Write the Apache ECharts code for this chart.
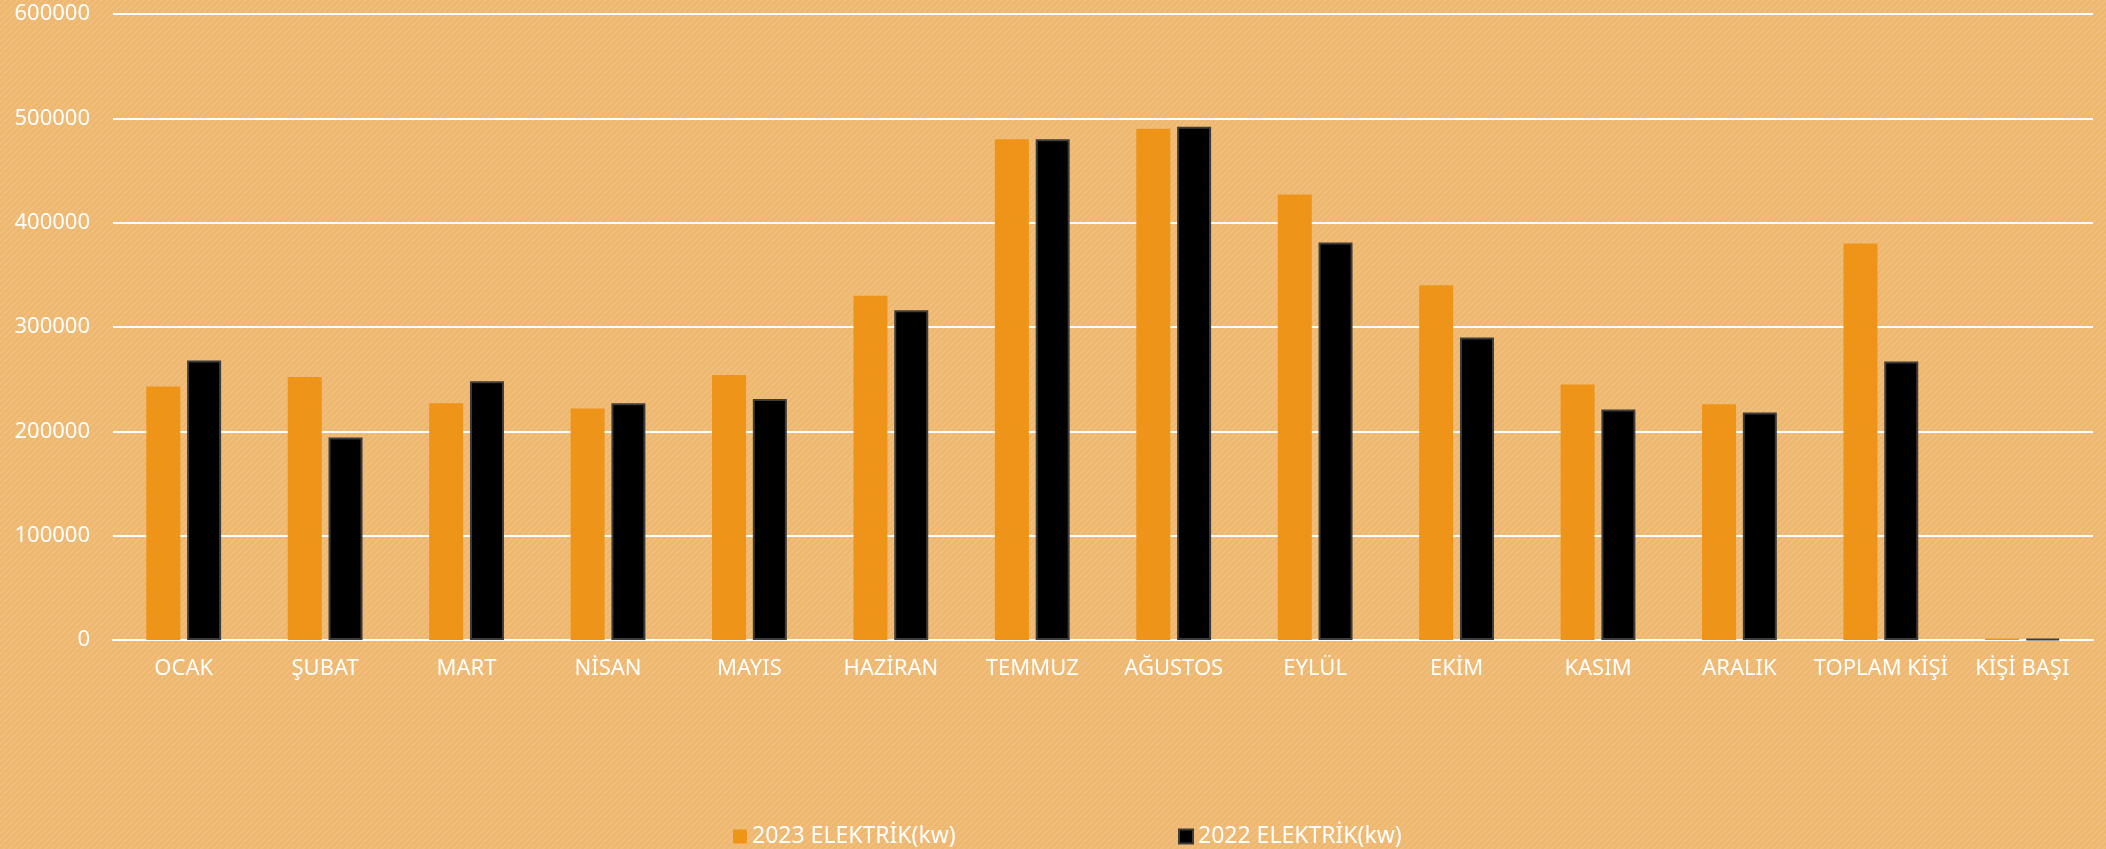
<!DOCTYPE html>
<html>
<head>
<meta charset="utf-8">
<script src="https://cdn.jsdelivr.net/npm/echarts@6/dist/echarts.min.js"></script>
<style>
html,body{margin:0;padding:0;background:#EEB870;}
#c{width:2106px;height:849px;}
</style>
</head>
<body>
<div id="c"></div>
<script>
const categories = ['OCAK','ŞUBAT','MART','NİSAN','MAYIS','HAZİRAN','TEMMUZ','AĞUSTOS','EYLÜL','EKİM','KASIM','ARALIK','TOPLAM KİŞİ','KİŞİ BAŞI'];
const elektrik2023 = [243000,252000,227000,222000,254000,330000,480000,490000,427000,340000,245000,226000,380000,1500];
const elektrik2022 = [268000,194000,248000,227000,231000,316000,480000,492000,381000,290000,221000,218000,267000,1000];
const yTicks = [0,100000,200000,300000,400000,500000,600000];
const seriesNames = ['2023 ELEKTRİK(kw)','2022 ELEKTRİK(kw)'];

// diagonal stripe background pattern
const pc = document.createElement('canvas');
pc.width = 6; pc.height = 6;
const g = pc.getContext('2d');
g.fillStyle = '#EEB76F';
g.fillRect(0,0,6,6);
g.strokeStyle = '#F1BF7E';
g.lineWidth = 1.6;
g.beginPath();
g.moveTo(-1,7); g.lineTo(7,-1);
g.moveTo(-4,4); g.lineTo(4,-4);
g.moveTo(2,10); g.lineTo(10,2);
g.stroke();

const FONT = '"Noto Sans", sans-serif';
const legendBase = {
  top: 820, itemWidth: 14, itemHeight: 14, icon: 'rect',
  textStyle: {color: '#fff', fontSize: 23, fontFamily: FONT}
};
const chart = echarts.init(document.getElementById('c'));
chart.setOption({
  backgroundColor: {image: pc, repeat: 'repeat'},
  animation: false,
  grid: {left: 113, right: 13, top: 14, bottom: 209, containLabel: false},
  legend: [
    Object.assign({left: 728, data: [seriesNames[0]]}, legendBase),
    Object.assign({left: 1173, data: [seriesNames[1]]}, legendBase)
  ],
  xAxis: {
    type: 'category', data: categories,
    axisLine: {show: true, lineStyle: {color: '#fff', width: 2}},
    axisTick: {show: false},
    axisLabel: {color: '#fff', fontSize: 22, fontFamily: FONT, margin: 18, interval: 0}
  },
  yAxis: {
    type: 'value', min: yTicks[0], max: yTicks[yTicks.length-1], interval: 100000,
    axisLine: {show: false}, axisTick: {show: false},
    splitLine: {lineStyle: {color: '#fff', width: 2}},
    axisLabel: {color: '#fff', fontSize: 22, fontFamily: FONT, margin: 23, formatter: v => String(v)}
  },
  series: [
    {name: seriesNames[0], type: 'bar', data: elektrik2023, barWidth: 34, barGap: '20%',
     itemStyle: {color: '#EE9418'}},
    {name: seriesNames[1], type: 'bar', data: elektrik2022, barWidth: 34,
     itemStyle: {color: '#000', borderColor: '#3d3d3d', borderWidth: 2}}
  ]
});
</script>
</body>
</html>
